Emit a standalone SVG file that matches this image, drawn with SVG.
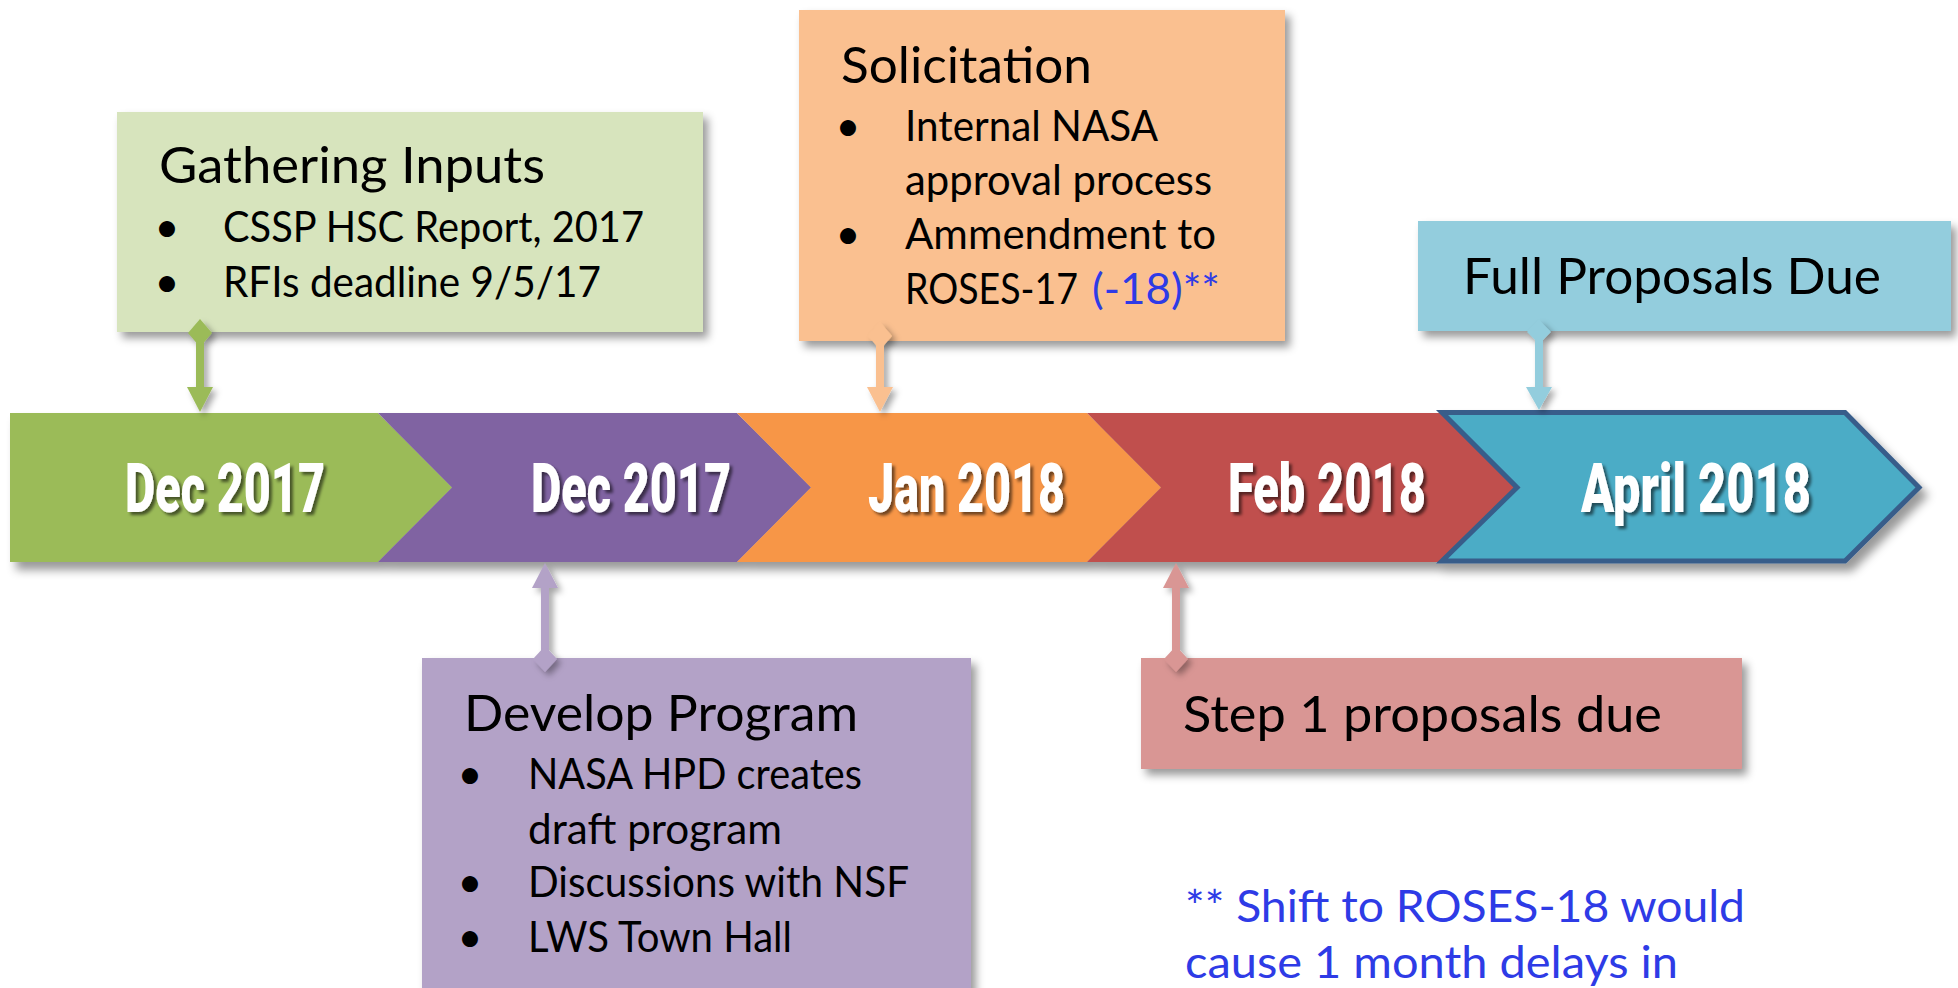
<svg xmlns="http://www.w3.org/2000/svg" width="1958" height="988" viewBox="0 0 1958 988">
  <defs>
    <filter id="shadowBar" x="-5%" y="-20%" width="110%" height="150%">
      <feDropShadow dx="6" dy="8" stdDeviation="5" flood-color="#000" flood-opacity="0.4"/>
    </filter>
    <filter id="shadowBox" x="-5%" y="-10%" width="112%" height="130%">
      <feDropShadow dx="5" dy="6" stdDeviation="4" flood-color="#000" flood-opacity="0.4"/>
    </filter>
    <filter id="shadowLink" x="-100%" y="-20%" width="300%" height="150%">
      <feDropShadow dx="4" dy="4" stdDeviation="3" flood-color="#000" flood-opacity="0.35"/>
    </filter>
    <filter id="shadowText" x="-10%" y="-20%" width="120%" height="150%">
      <feDropShadow dx="3" dy="3" stdDeviation="1.5" flood-color="#000" flood-opacity="0.55"/>
    </filter>
  </defs>
  <style>
    .date { font-family: Roboto, "Liberation Sans", sans-serif; font-weight: 900; font-size: 68px; fill: #ffffff; }
    .title { font-family: Lato, "Liberation Sans", sans-serif; font-size: 50px; fill: #000000; }
    .item { font-family: Lato, "Liberation Sans", sans-serif; font-size: 43px; fill: #000000; }
    .bullet { font-family: Lato, "Liberation Sans", sans-serif; font-size: 43px; fill: #000000; text-anchor: middle; }
    .note { font-family: Lato, "Liberation Sans", sans-serif; font-size: 44px; fill: #2E3BE6; }
  </style>

  <rect x="0" y="0" width="1958" height="988" fill="#ffffff"/>

  <!-- timeline bar -->
  <g id="timeline" filter="url(#shadowBar)">
    <path d="M10,413 L378,413 L452,487.5 L378,562 L10,562 Z" fill="#9BBB59"/>
    <path d="M378,413 L737,413 L811,487.5 L737,562 L378,562 L452,487.5 Z" fill="#8064A2"/>
    <path d="M737,413 L1087,413 L1161,487.5 L1087,562 L737,562 L811,487.5 Z" fill="#F79646"/>
    <path d="M1087,413 L1442,413 L1516,487.5 L1442,562 L1087,562 L1161,487.5 Z" fill="#C0504D"/>
    <path d="M1442,412.5 L1845,412.5 L1919,487.5 L1845,561 L1442,561 L1517,487.5 Z" fill="#4BACC6" stroke="#385D8A" stroke-width="5" stroke-linejoin="miter"/>
  </g>

  <g id="dates" filter="url(#shadowText)">
    <text class="date" x="125" y="512" textLength="200" lengthAdjust="spacingAndGlyphs">Dec 2017</text>
    <text class="date" x="531" y="512" textLength="200" lengthAdjust="spacingAndGlyphs">Dec 2017</text>
    <text class="date" x="868" y="512" textLength="197" lengthAdjust="spacingAndGlyphs">Jan 2018</text>
    <text class="date" x="1228" y="512" textLength="198" lengthAdjust="spacingAndGlyphs">Feb 2018</text>
    <text class="date" x="1581" y="512" textLength="230" lengthAdjust="spacingAndGlyphs">April 2018</text>
  </g>

  <!-- Gathering Inputs -->
  <g id="gathering-inputs">
    <rect x="117" y="112" width="586" height="220" fill="#D7E4BD" filter="url(#shadowBox)"/>
    <text class="title" x="159" y="183" textLength="386" lengthAdjust="spacingAndGlyphs">Gathering Inputs</text>
    <text class="bullet" x="167" y="242">•</text>
    <text class="item" x="223" y="242" textLength="421" lengthAdjust="spacingAndGlyphs">CSSP HSC Report, 2017</text>
    <text class="bullet" x="167" y="297">•</text>
    <text class="item" x="223" y="297" textLength="378" lengthAdjust="spacingAndGlyphs">RFIs deadline 9/5/17</text>
  </g>

  <!-- Solicitation -->
  <g id="solicitation">
    <rect x="799" y="10" width="486" height="331" fill="#FAC090" filter="url(#shadowBox)"/>
    <text class="title" x="841" y="83" textLength="251" lengthAdjust="spacingAndGlyphs">Solicitation</text>
    <text class="bullet" x="848" y="141">•</text>
    <text class="item" x="905" y="141" textLength="253" lengthAdjust="spacingAndGlyphs">Internal NASA</text>
    <text class="item" x="905" y="195" textLength="307" lengthAdjust="spacingAndGlyphs">approval process</text>
    <text class="bullet" x="848" y="249">•</text>
    <text class="item" x="905" y="249" textLength="311" lengthAdjust="spacingAndGlyphs">Ammendment to</text>
    <text class="item" x="905" y="304" textLength="173" lengthAdjust="spacingAndGlyphs">ROSES-17</text>
    <text class="note" x="1092" y="304" textLength="128" lengthAdjust="spacingAndGlyphs" style="font-size:43px">(-18)**</text>
  </g>

  <!-- Full Proposals Due -->
  <g id="full-proposals">
    <rect x="1418" y="221" width="533" height="110" fill="#93CDDD" filter="url(#shadowBox)"/>
    <text class="title" x="1463" y="294" textLength="418" lengthAdjust="spacingAndGlyphs" style="font-size:51px">Full Proposals Due</text>
  </g>

  <!-- Develop Program -->
  <g id="develop-program">
    <rect x="422" y="658" width="549" height="340" fill="#B3A2C7" filter="url(#shadowBox)"/>
    <text class="title" x="464" y="731" textLength="394" lengthAdjust="spacingAndGlyphs">Develop Program</text>
    <text class="bullet" x="470" y="789">•</text>
    <text class="item" x="528" y="789" textLength="334" lengthAdjust="spacingAndGlyphs">NASA HPD creates</text>
    <text class="item" x="528" y="844" textLength="254" lengthAdjust="spacingAndGlyphs">draft program</text>
    <text class="bullet" x="470" y="897">•</text>
    <text class="item" x="528" y="897" textLength="381" lengthAdjust="spacingAndGlyphs">Discussions with NSF</text>
    <text class="bullet" x="470" y="952">•</text>
    <text class="item" x="528" y="952" textLength="264" lengthAdjust="spacingAndGlyphs">LWS Town Hall</text>
  </g>

  <!-- Step 1 proposals due -->
  <g id="step1-proposals">
    <rect x="1141" y="658" width="601" height="111" fill="#D99694" filter="url(#shadowBox)"/>
    <text class="title" x="1183" y="732" textLength="479" lengthAdjust="spacingAndGlyphs" style="font-size:51px">Step 1 proposals due</text>
  </g>

  <!-- footnote -->
  <g id="footnote">
    <text class="note" x="1185" y="922" textLength="560" lengthAdjust="spacingAndGlyphs">** Shift to ROSES-18 would</text>
    <text class="note" x="1185" y="978" textLength="493" lengthAdjust="spacingAndGlyphs">cause 1 month delays in</text>
  </g>

  <!-- connectors: diamond at the box, arrowhead at the bar -->
  <g id="connectors" filter="url(#shadowLink)">
    <g fill="#9BBB59">
      <rect x="196" y="332" width="8" height="58"/>
      <polygon points="200,319 212,333 200,347 188,333"/>
      <polygon points="187,387 213,387 200,412"/>
    </g>
    <g fill="#FAC090">
      <rect x="876" y="336" width="8" height="54"/>
      <polygon points="880,322 892,336 880,350 868,336"/>
      <polygon points="867,387 893,387 880,412"/>
    </g>
    <g fill="#93CDDD">
      <rect x="1535" y="332" width="8" height="58"/>
      <polygon points="1539,320 1551,332 1539,344 1527,332"/>
      <polygon points="1526,387 1552,387 1539,410"/>
    </g>
    <g fill="#B3A2C7">
      <rect x="541" y="584" width="8" height="74"/>
      <polygon points="545,646 557,659 545,672 533,659"/>
      <polygon points="532,588 558,588 545,563"/>
    </g>
    <g fill="#D99694">
      <rect x="1172" y="584" width="8" height="74"/>
      <polygon points="1176,646 1188,659 1176,672 1164,659"/>
      <polygon points="1163,588 1189,588 1176,563"/>
    </g>
  </g>
</svg>
